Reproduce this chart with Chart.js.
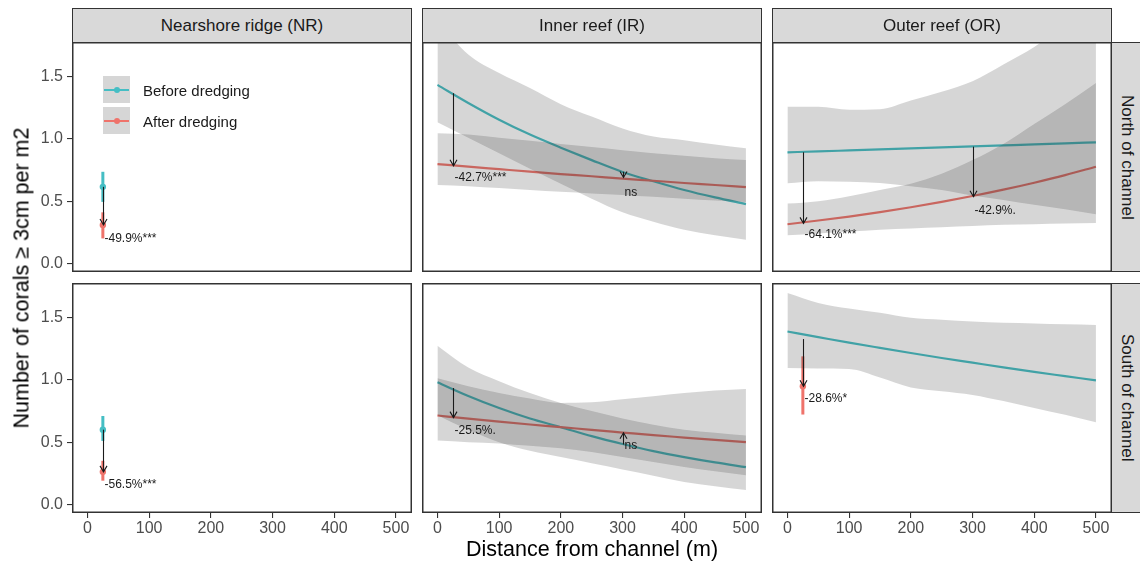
<!DOCTYPE html>
<html>
<head>
<meta charset="utf-8">
<script src="https://cdn.jsdelivr.net/npm/chart.js@4.4.0/dist/chart.umd.min.js"></script>
<style>
  html, body { margin: 0; padding: 0; background: #fff; }
  #fig { position: relative; width: 1140px; height: 567px; overflow: hidden;
         font-family: "Liberation Sans", Arial, Helvetica, sans-serif; }
  #fig canvas { position: absolute; }
  .strip { position: absolute; background: #d9d9d9; border: 1px solid #333; box-sizing: border-box;
           display: flex; align-items: center; justify-content: center;
           font-size: 17px; color: #1a1a1a; white-space: nowrap; }
  .strip.side span { writing-mode: vertical-rl; }
  .title { position: absolute; transform: translate(-50%, -50%); white-space: nowrap;
           font-size: 21.5px; color: #000; }
  .key { position: absolute; width: 27px; height: 27px; background: #d6d6d6; }
  .key .ln { position: absolute; left: 1px; top: 12.5px; width: 25px; height: 2px; }
  .key .pt { position: absolute; left: 10.5px; top: 10.5px; width: 6px; height: 6px; border-radius: 50%; }
  .keytxt { position: absolute; font-size: 15px; color: #1a1a1a; transform: translateY(-50%); white-space: nowrap; }
</style>
</head>
<body>
<div id="fig"></div>
<script>
// ---- data -------------------------------------------------------------
const distance = [0, 50, 100, 150, 200, 250, 300, 350, 400, 450, 500];
const xTicks = [0, 100, 200, 300, 400, 500];
const yTicks = [0, 0.5, 1.0, 1.5];
const reefZones = ['Nearshore ridge (NR)', 'Inner reef (IR)', 'Outer reef (OR)'];
const channelSides = ['North of channel', 'South of channel'];
const periods = ['Before dredging', 'After dredging'];

// Inner reef, north of channel
const irNorthBefore   = [1.435, 1.29, 1.155, 1.035, 0.93, 0.83, 0.735, 0.66, 0.59, 0.53, 0.476];
const irNorthBeforeHi = [1.95, 1.68, 1.53, 1.41, 1.28, 1.18, 1.085, 1.02, 0.99, 0.955, 0.925];
const irNorthBeforeLo = [1.135, 1.01, 0.885, 0.76, 0.64, 0.52, 0.41, 0.335, 0.27, 0.225, 0.19];
const irNorthAfter    = [0.798, 0.777, 0.757, 0.737, 0.718, 0.70, 0.681, 0.664, 0.646, 0.63, 0.613];
const irNorthAfterHi  = [1.046, 1.035, 1.01, 0.985, 0.96, 0.935, 0.91, 0.885, 0.865, 0.845, 0.83];
const irNorthAfterLo  = [0.63, 0.62, 0.605, 0.59, 0.575, 0.562, 0.55, 0.535, 0.52, 0.505, 0.494];

// Inner reef, south of channel
const irSouthBefore   = [0.981, 0.871, 0.774, 0.69, 0.62, 0.548, 0.485, 0.428, 0.38, 0.337, 0.299];
const irSouthBeforeHi = [1.275, 1.10, 0.99, 0.895, 0.815, 0.75, 0.69, 0.64, 0.60, 0.575, 0.553];
const irSouthBeforeLo = [0.717, 0.60, 0.50, 0.43, 0.38, 0.33, 0.28, 0.23, 0.18, 0.145, 0.115];
const irSouthAfter    = [0.714, 0.689, 0.665, 0.642, 0.621, 0.598, 0.577, 0.556, 0.537, 0.518, 0.50];
const irSouthAfterHi  = [1.013, 0.95, 0.895, 0.85, 0.815, 0.82, 0.845, 0.87, 0.895, 0.915, 0.928];
const irSouthAfterLo  = [0.513, 0.50, 0.49, 0.47, 0.45, 0.42, 0.38, 0.34, 0.30, 0.265, 0.233];

// Outer reef, north of channel
const orNorthBefore   = [0.893, 0.90, 0.908, 0.916, 0.924, 0.932, 0.94, 0.948, 0.956, 0.965, 0.973];
const orNorthBeforeHi = [1.26, 1.26, 1.235, 1.24, 1.31, 1.38, 1.465, 1.60, 1.74, 1.92, 2.1];
const orNorthBeforeLo = [0.643, 0.66, 0.655, 0.645, 0.62, 0.59, 0.545, 0.51, 0.47, 0.435, 0.395];
const orNorthAfter    = [0.314, 0.344, 0.376, 0.412, 0.451, 0.494, 0.541, 0.592, 0.648, 0.709, 0.777];
const orNorthAfterHi  = [0.48, 0.50, 0.54, 0.59, 0.64, 0.72, 0.83, 0.96, 1.12, 1.28, 1.45];
const orNorthAfterLo  = [0.226, 0.24, 0.255, 0.27, 0.28, 0.29, 0.30, 0.31, 0.315, 0.32, 0.325];

// Outer reef, south of channel
const orSouthBefore   = [1.39, 1.345, 1.30, 1.258, 1.217, 1.177, 1.139, 1.101, 1.065, 1.031, 0.997];
const orSouthBeforeHi = [1.70, 1.62, 1.575, 1.54, 1.50, 1.485, 1.47, 1.46, 1.455, 1.448, 1.443];
const orSouthBeforeLo = [1.096, 1.092, 1.088, 1.02, 0.94, 0.91, 0.88, 0.83, 0.775, 0.72, 0.66];

// Site estimates at 25 m: [estimate, lower, upper]
const nrNorthBeforePt = [0.615, 0.494, 0.736];
const nrNorthAfterPt  = [0.308, 0.20, 0.41];
const nrSouthBeforePt = [0.60, 0.51, 0.71];
const nrSouthAfterPt  = [0.261, 0.19, 0.35];
const orSouthAfterPt  = [0.949, 0.722, 1.19];
const siteDistance = 25;

// Change arrows: distance, from, to, label, label height
const nrNorthChange = [[25, 0.615, 0.308, '-49.9%***', 0.20]];
const nrSouthChange = [[25, 0.60, 0.261, '-56.5%***', 0.16]];
const irNorthChange = [[25, 1.368, 0.784, '-42.7%***', 0.69], [300, 0.736, 0.69, 'ns', 0.57]];
const irSouthChange = [[25, 0.935, 0.697, '-25.5%.', 0.59], [300, 0.481, 0.575, 'ns', 0.468]];
const orNorthChange = [[25, 0.893, 0.321, '-64.1%***', 0.232], [300, 0.938, 0.536, '-42.9%.', 0.427]];
const orSouthChange = [[25, 1.329, 0.949, '-28.6%*', 0.85]];

// ---- styling ----------------------------------------------------------
const FONT = '"Liberation Sans", Arial, Helvetica, sans-serif';
const BEFORE_COL = '#45bec4';
const AFTER_COL = '#ef736b';
const RIBBON = 'rgba(51,51,51,0.2)';
const colLeft = [72, 422, 772], panelW = 340;
const rowTop = [42, 283], panelH = 230;
const yAxisW = 72, xAxisH = 34;

const pts = arr => distance.map((d, i) => ({ x: d, y: arr[i] }));

function ribbon(hi, lo) {
  return [
    { data: pts(hi), borderWidth: 0, pointRadius: 0, fill: '+1', backgroundColor: RIBBON,
      cubicInterpolationMode: 'monotone', order: 1 },
    { data: pts(lo), borderWidth: 0, pointRadius: 0, fill: false,
      cubicInterpolationMode: 'monotone', order: 1 }
  ];
}
function fitLine(arr, color) {
  return { data: pts(arr), borderColor: color, borderWidth: 2.2, pointRadius: 0, fill: false,
           cubicInterpolationMode: 'monotone', order: 2 };
}
function site(est, color) {
  return [
    { data: [{ x: siteDistance, y: est[0] }], showLine: false, pointRadius: 3.2,
      pointBackgroundColor: color, pointBorderWidth: 0, order: 2 },
    { data: [{ x: siteDistance, y: est[1] }, { x: siteDistance, y: est[2] }], borderColor: color,
      borderWidth: 3, pointRadius: 0, fill: false, order: 2 }
  ];
}

function decor(changes) {
  return {
    id: 'decor',
    afterDatasetsDraw(chart) {
      const { ctx, chartArea: a, scales: { x, y } } = chart;
      ctx.save();
      ctx.beginPath(); ctx.rect(a.left, a.top, a.width, a.height); ctx.clip();
      ctx.strokeStyle = '#1a1a1a'; ctx.fillStyle = '#1a1a1a'; ctx.lineWidth = 1.1;
      ctx.font = '12px ' + FONT; ctx.textBaseline = 'middle'; ctx.textAlign = 'left';
      changes.forEach(([d, from, to, label, ly]) => {
        const px = Math.round(x.getPixelForValue(d)) + 0.5;
        const y0 = y.getPixelForValue(from), y1 = y.getPixelForValue(to);
        ctx.beginPath(); ctx.moveTo(px, y0); ctx.lineTo(px, y1); ctx.stroke();
        const back = y1 > y0 ? -6 : 6;
        ctx.beginPath();
        ctx.moveTo(px - 3.5, y1 + back); ctx.lineTo(px, y1); ctx.lineTo(px + 3.5, y1 + back);
        ctx.stroke();
        ctx.fillText(label, px + 1, y.getPixelForValue(ly));
      });
      ctx.restore();
    },
    afterDraw(chart) {
      const { ctx, chartArea: a } = chart;
      ctx.save();
      ctx.strokeStyle = '#333'; ctx.lineWidth = 1.5;
      ctx.strokeRect(a.left + 0.75, a.top + 0.75, a.width - 1.5, a.height - 1.5);
      ctx.restore();
    }
  };
}

const fig = document.getElementById('fig');

function makePanel(row, col, datasets, changes) {
  const showY = col === 0, showX = row === 1;
  const cv = document.createElement('canvas');
  const w = panelW + (showY ? yAxisW : 0), h = panelH + (showX ? xAxisH : 0);
  cv.width = w; cv.height = h;
  cv.style.width = w + 'px'; cv.style.height = h + 'px';
  cv.style.left = (colLeft[col] - (showY ? yAxisW : 0)) + 'px';
  cv.style.top = rowTop[row] + 'px';
  fig.appendChild(cv);
  const tickGrid = { drawOnChartArea: false, drawTicks: true, tickLength: 5, color: '#333', lineWidth: 1.1 };
  new Chart(cv, {
    type: 'line',
    data: { datasets },
    options: {
      responsive: false, animation: false, events: [], devicePixelRatio: 1,
      layout: { padding: 0, autoPadding: false },
      plugins: { legend: { display: false }, tooltip: { enabled: false } },
      scales: {
        x: {
          type: 'linear', min: -25, max: 526, display: showX,
          afterBuildTicks: s => { s.ticks = xTicks.map(v => ({ value: v })); },
          afterFit: s => {
            s.height = showX ? xAxisH : 0;
            s.paddingLeft = 0; s.paddingRight = 0; s.paddingTop = 0; s.paddingBottom = 0;
          },
          grid: tickGrid, border: { display: false },
          ticks: { color: '#4d4d4d', font: { size: 16, family: FONT }, padding: 1,
                   maxRotation: 0, autoSkip: false, callback: v => String(v) }
        },
        y: {
          type: 'linear', min: -0.07, max: 1.78, display: showY,
          afterBuildTicks: s => { s.ticks = yTicks.map(v => ({ value: v })); },
          afterFit: s => {
            s.width = showY ? yAxisW : 0;
            s.paddingTop = 0; s.paddingBottom = 0; s.paddingLeft = 0; s.paddingRight = 0;
          },
          grid: tickGrid, border: { display: false },
          ticks: { color: '#4d4d4d', font: { size: 16, family: FONT }, padding: 4,
                   autoSkip: false, callback: v => v.toFixed(1) }
        }
      }
    },
    plugins: [decor(changes)]
  });
}

// Nearshore ridge
makePanel(0, 0, [...site(nrNorthAfterPt, AFTER_COL), ...site(nrNorthBeforePt, BEFORE_COL)], nrNorthChange);
makePanel(1, 0, [...site(nrSouthAfterPt, AFTER_COL), ...site(nrSouthBeforePt, BEFORE_COL)], nrSouthChange);
// Inner reef
makePanel(0, 1, [...ribbon(irNorthBeforeHi, irNorthBeforeLo), ...ribbon(irNorthAfterHi, irNorthAfterLo),
                 fitLine(irNorthAfter, AFTER_COL), fitLine(irNorthBefore, BEFORE_COL)], irNorthChange);
makePanel(1, 1, [...ribbon(irSouthBeforeHi, irSouthBeforeLo), ...ribbon(irSouthAfterHi, irSouthAfterLo),
                 fitLine(irSouthAfter, AFTER_COL), fitLine(irSouthBefore, BEFORE_COL)], irSouthChange);
// Outer reef
makePanel(0, 2, [...ribbon(orNorthBeforeHi, orNorthBeforeLo), ...ribbon(orNorthAfterHi, orNorthAfterLo),
                 fitLine(orNorthAfter, AFTER_COL), fitLine(orNorthBefore, BEFORE_COL)], orNorthChange);
makePanel(1, 2, [...ribbon(orSouthBeforeHi, orSouthBeforeLo),
                 ...site(orSouthAfterPt, AFTER_COL), fitLine(orSouthBefore, BEFORE_COL)], orSouthChange);

// ---- facet strips, titles and legend ----------------------------------
function addDiv(cls, style, html) {
  const d = document.createElement('div');
  d.className = cls; Object.assign(d.style, style); d.innerHTML = html || '';
  fig.appendChild(d); return d;
}
reefZones.forEach((z, c) => addDiv('strip', { left: colLeft[c] + 'px', top: '8px', width: panelW + 'px', height: '35px' }, z));
channelSides.forEach((s, r) => addDiv('strip side', { left: '1111px', top: rowTop[r] + 'px', width: '32px', height: panelH + 'px' }, '<span>' + s + '</span>'));
addDiv('title', { left: '592px', top: '549px' }, 'Distance from channel (m)');
addDiv('title', { left: '22px', top: '278px', transform: 'translate(-50%,-50%) rotate(-90deg)' }, 'Number of corals ≥ 3cm per m2');
[BEFORE_COL, AFTER_COL].forEach((col, i) => {
  const top = 76 + i * 31;
  addDiv('key', { left: '103px', top: top + 'px' },
         '<div class="ln" style="background:' + col + '"></div><div class="pt" style="background:' + col + '"></div>');
  addDiv('keytxt', { left: '143px', top: (top + 14) + 'px' }, periods[i]);
});
</script>
</body>
</html>
